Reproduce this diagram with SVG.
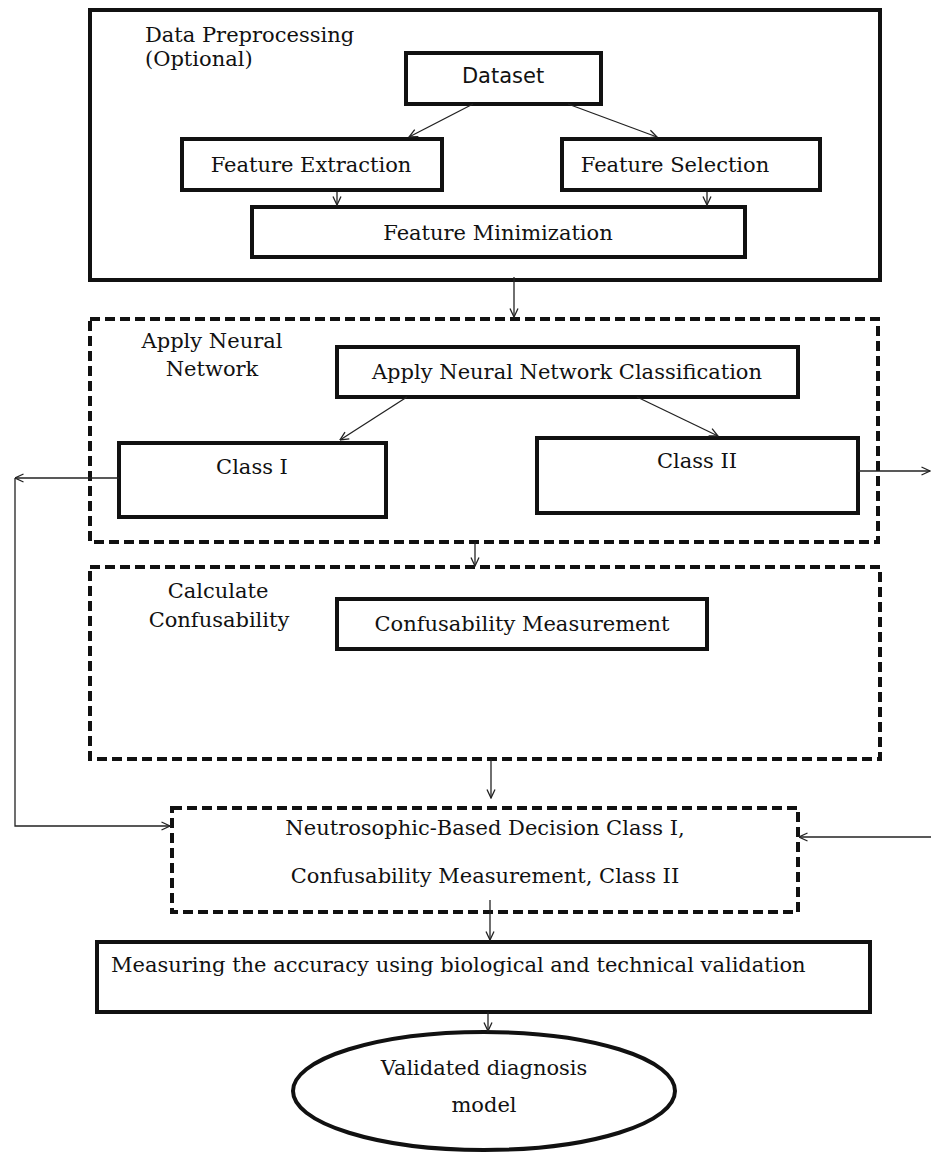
<svg xmlns="http://www.w3.org/2000/svg" width="931" height="1152" viewBox="0 0 931 1152">
<style>
.box{fill:#fff;stroke:#111;stroke-width:4}
.outer{fill:none;stroke:#111;stroke-width:4}
.dash{fill:none;stroke:#111;stroke-width:4;stroke-dasharray:10 5}
.t{font-family:"DejaVu Serif",serif;font-size:21px;fill:#111}
.s{font-family:"DejaVu Sans",sans-serif;font-size:21px;fill:#111}
.c{text-anchor:middle}
.ln{fill:none;stroke:#222;stroke-width:1.3}
</style>
<defs>
<marker id="ah" viewBox="0 0 10 10" refX="9.5" refY="5" markerWidth="10" markerHeight="10" markerUnits="userSpaceOnUse" orient="auto">
<path d="M1,1 L9.5,5 L1,9" fill="none" stroke="#222" stroke-width="1.3"/>
</marker>
</defs>
<rect width="931" height="1152" fill="#fff"/>

<g id="preprocessing">
<rect class="outer" x="90" y="10" width="790" height="270"/>
<text class="t" x="145" y="42">Data Preprocessing</text>
<text class="t" x="145" y="66">(Optional)</text>
</g>
<g id="dataset">
<rect class="box" x="406" y="53" width="195" height="51"/>
<text class="s c" x="503" y="83">Dataset</text>
</g>
<g id="feature-extraction">
<rect class="box" x="182" y="139" width="260" height="51"/>
<text class="t c" x="311" y="172">Feature Extraction</text>
</g>
<g id="feature-selection">
<rect class="box" x="562" y="139" width="258" height="51"/>
<text class="t c" x="675" y="172">Feature Selection</text>
</g>
<g id="feature-minimization">
<rect class="box" x="252" y="207" width="493" height="50"/>
<text class="t c" x="498" y="240">Feature Minimization</text>
</g>

<g id="neural-network">
<rect class="dash" x="90" y="319" width="788" height="223"/>
<text class="t c" x="212" y="348">Apply Neural</text>
<text class="t c" x="212" y="376">Network</text>
</g>
<g id="nn-classification">
<rect class="box" x="337" y="347" width="461" height="50"/>
<text class="t c" x="567" y="379">Apply Neural Network Classification</text>
</g>
<g id="class-1">
<rect class="box" x="119" y="443" width="267" height="74"/>
<text class="t c" x="252" y="474">Class I</text>
</g>
<g id="class-2">
<rect class="box" x="537" y="438" width="321" height="75"/>
<text class="t c" x="697" y="468">Class II</text>
</g>

<g id="confusability">
<rect class="dash" x="90" y="567" width="790" height="192"/>
<text class="t c" x="218" y="598">Calculate</text>
<text class="t c" x="219" y="627">Confusability</text>
</g>
<g id="confusability-measurement">
<rect class="box" x="337" y="599" width="370" height="50"/>
<text class="t c" x="522" y="631">Confusability Measurement</text>
</g>

<g id="neutrosophic">
<rect class="dash" x="172" y="808" width="626" height="104"/>
<text class="t c" x="485" y="835">Neutrosophic-Based Decision Class I,</text>
<text class="t c" x="485" y="883">Confusability Measurement, Class II</text>
</g>
<g id="measuring">
<rect class="box" x="97" y="942" width="773" height="70"/>
<text class="t" x="111" y="972">Measuring the accuracy using biological and technical validation</text>
</g>
<g id="validated">
<ellipse class="box" cx="484" cy="1091" rx="191" ry="59"/>
<text class="t c" x="484" y="1075">Validated diagnosis</text>
<text class="t c" x="484" y="1112">model</text>
</g>

<g id="connectors">
<line class="ln" x1="473" y1="104" x2="409" y2="137" marker-end="url(#ah)"/>
<line class="ln" x1="568" y1="104" x2="657" y2="137" marker-end="url(#ah)"/>
<line class="ln" x1="337" y1="192" x2="337" y2="205" marker-end="url(#ah)"/>
<line class="ln" x1="707" y1="192" x2="707" y2="205" marker-end="url(#ah)"/>
<line class="ln" x1="514" y1="277" x2="514" y2="317" marker-end="url(#ah)"/>
<line class="ln" x1="407" y1="397" x2="340" y2="440" marker-end="url(#ah)"/>
<line class="ln" x1="637" y1="397" x2="718" y2="436" marker-end="url(#ah)"/>
<line class="ln" x1="858" y1="471" x2="930" y2="471" marker-end="url(#ah)"/>
<line class="ln" x1="119" y1="478" x2="15" y2="478" marker-end="url(#ah)"/>
<polyline class="ln" points="15,478 15,826 170,826" marker-end="url(#ah)"/>
<line class="ln" x1="931" y1="837" x2="799" y2="837" marker-end="url(#ah)"/>
<line class="ln" x1="475" y1="542" x2="475" y2="566" marker-end="url(#ah)"/>
<line class="ln" x1="491" y1="759" x2="491" y2="798" marker-end="url(#ah)"/>
<line class="ln" x1="490" y1="900" x2="490" y2="940" marker-end="url(#ah)"/>
<line class="ln" x1="488" y1="1012" x2="488" y2="1031" marker-end="url(#ah)"/>
</g>
</svg>
